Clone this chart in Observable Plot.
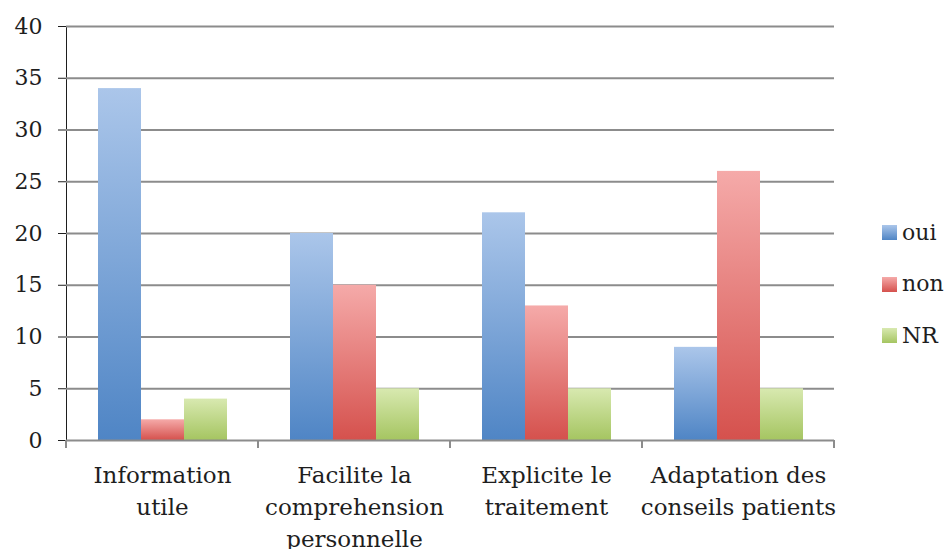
<!DOCTYPE html>
<html><head><meta charset="utf-8">
<script src="https://cdn.jsdelivr.net/npm/d3@7"></script>
<script src="https://cdn.jsdelivr.net/npm/@observablehq/plot@0.6"></script>
<style>
body{margin:0;background:#fff;}
#wrap{position:relative;width:948px;height:549px;overflow:hidden;font-family:"DejaVu Serif",serif;color:#1e1e1e;}
#legend{position:absolute;left:882px;top:207px;}
.item{display:flex;align-items:center;height:51.5px;}
.sw{width:15px;height:15px;margin-right:5px;}
.lab{font-size:22px;line-height:22px;}
</style></head><body><div id="wrap"><div id="legend"></div></div>
<script>
const categories = ["Information utile","Facilite la comprehension personnelle","Explicite le traitement","Adaptation des conseils patients"];
const categoryLines = [["Information","utile"],["Facilite la","comprehension","personnelle"],["Explicite le","traitement"],["Adaptation des","conseils patients"]];
const series = ["oui","non","NR"];
const oui = [34,20,22,9];
const non = [2,15,13,26];
const nr = [4,5,5,5];
const yTicks = [0,5,10,15,20,25,30,35,40];
const gradientTop = ["#abc6ea","#f5aaa9","#d8e9b0"];
const gradientBottom = ["#4f85c5","#d5514d","#a5c561"];
const gridColor = "#8c8c8c";

const values = [oui, non, nr];
const rows = [];
series.forEach((s, si) => categories.forEach((c, ci) => rows.push({category: c, series: s, value: values[si][ci]})));

const defs = () => {
  const d = d3.create("svg:defs");
  series.forEach((s, i) => {
    const g = d.append("linearGradient").attr("id", "grad-" + s).attr("x1", 0).attr("y1", 0).attr("x2", 0).attr("y2", 1);
    g.append("stop").attr("offset", "0%").attr("stop-color", gradientTop[i]);
    g.append("stop").attr("offset", "100%").attr("stop-color", gradientBottom[i]);
  });
  return d.node();
};

const boundaryTicks = (index, scales, vals, dims) => {
  const g = d3.create("svg:g");
  const y0 = scales.y(0);
  let l, r;
  if (scales.x && typeof scales.x.range === "function") { [l, r] = scales.x.range(); }
  else { l = dims.marginLeft; r = dims.width - dims.marginRight; }
  for (const x of [l, r]) {
    g.append("line").attr("x1", x).attr("x2", x).attr("y1", y0).attr("y2", y0 + 8)
      .attr("stroke", gridColor).attr("stroke-width", 2);
  }
  return g.node();
};

const chart = Plot.plot({
  width: 948, height: 549,
  marginLeft: 66, marginRight: 114, marginTop: 26, marginBottom: 109,
  style: {fontFamily: "DejaVu Serif, serif", fontSize: "22px", color: "#1e1e1e", background: "transparent"},
  fx: {domain: categories, padding: 0, axis: null, label: null},
  x: {domain: series, paddingInner: 0, paddingOuter: 0.73, axis: null, label: null},
  y: {domain: [0, 40], ticks: yTicks, tickSize: 8, tickPadding: 16, line: true, label: null},
  marks: [
    defs,
    Plot.gridY(yTicks.filter(t => t > 0), {stroke: gridColor, strokeOpacity: 1, strokeWidth: 2}),
    ...series.map(s => Plot.barY(rows.filter(r => r.series === s), {fx: "category", x: "series", y: "value", fill: `url(#grad-${s})`})),
    Plot.ruleY([0], {stroke: gridColor, strokeWidth: 2}),
    boundaryTicks,
    Plot.text(categories, {fx: d => d, text: (d, i) => categoryLines[i].join("\n"), frameAnchor: "bottom", lineAnchor: "top", dy: 20, lineHeight: 1.39, fontSize: 23, fill: "#1e1e1e"})
  ]
});
document.getElementById("wrap").prepend(chart);

const legend = d3.select("#legend");
series.forEach((s, i) => {
  const it = legend.append("div").attr("class", "item");
  it.append("div").attr("class", "sw").style("background", `linear-gradient(${gradientTop[i]}, ${gradientBottom[i]})`);
  it.append("div").attr("class", "lab").text(s);
});
</script></body></html>
